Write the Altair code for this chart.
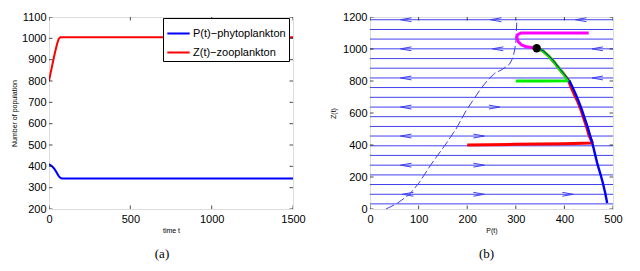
import altair as alt
import pandas as pd

# ---------------- Panel (a): time series ----------------
t_vals = [0, 10, 20, 30, 40, 50, 60, 70, 80, 1500]
p_vals = [410, 405, 399, 391, 380, 367, 354, 346, 343, 343]
z_vals = [800, 838, 874, 910, 944, 975, 998, 1005, 1005, 1005]
series_names = ["P(t)\u2212phytoplankton", "Z(t)\u2212zooplankton"]
series_colors = ["#0000ff", "#ff0000"]
a_x_domain = [0, 1500]
a_y_domain = [200, 1100]
a_xticks = [0, 500, 1000, 1500]
a_yticks = [200, 300, 400, 500, 600, 700, 800, 900, 1000, 1100]

# ---------------- Panel (b): phase portrait ----------------
b_x_domain = [0, 500]
b_y_domain = [0, 1200]
b_xticks = [0, 100, 200, 300, 400, 500]
b_yticks = [0, 200, 400, 600, 800, 1000, 1200]
row_z = [32, 92, 153, 213, 274, 335, 395, 456, 516, 577, 637, 698, 759,
         819, 880, 940, 1001, 1062, 1122, 1183]
sep_p = [33, 55, 81, 101, 126, 156, 177, 198, 228, 242, 256, 272, 287, 294, 298, 300, 301, 302]
sep_z = [0, 33, 91, 164, 280, 406, 500, 616, 752, 805, 847, 872, 905, 945, 1000, 1040, 1110, 1165]
# blue trajectory along the stable curve: lower thick part and upper thin part
curve_low_p = [410, 417, 424, 430, 436, 442, 448, 453, 458, 463, 468, 474, 479, 484, 488]
curve_low_z = [805, 760, 712, 668, 620, 565, 510, 458, 406, 343, 280, 220, 164, 100, 38]
curve_up_p = [343, 356, 369, 380, 390, 400, 410]
curve_up_z = [1005, 990, 955, 918, 878, 842, 805]
red_p = [200, 300, 400, 455, 457, 451, 446, 440, 434, 428, 421, 414, 408,
         399, 389, 379, 368, 355, 343]
red_z = [400, 404, 408, 412, 418, 458, 510, 565, 620, 668, 712, 760, 805,
         842, 878, 918, 955, 990, 1005]
green_p = [300, 360, 407, 399, 389, 379, 368, 355, 343]
green_z = [800, 800, 802, 842, 878, 918, 955, 990, 1005]
magenta_p = [450, 380, 311, 304, 302, 305, 312, 320, 335, 343]
magenta_z = [1100, 1100, 1100, 1090, 1075, 1045, 1025, 1015, 1008, 1005]
arrow_p = [74, 259, 434, 74, 263, 468, 74, 468, 74, 256, 74, 224, 74, 224, 78, 224, 407]
arrow_z = [1183, 1183, 1183, 1001, 1001, 1001, 819, 819, 637, 637, 456, 456, 274, 274, 92, 92, 92]
arrow_dir = ["L", "L", "L", "L", "L", "L", "L", "L", "L", "R", "L", "R", "L", "R", "L", "R", "R"]
equil_p = [343]
equil_z = [1005]

FONT = "Liberation Sans"
STREAM = "#4040f0"


def axis(values, title, label_pad, title_pad):
    return alt.Axis(values=values, title=title, labelPadding=label_pad,
                    titlePadding=title_pad, format="d", labelOverlap=False,
                    labelFlush=False, ticks=False, domain=False, grid=False,
                    labelFont=FONT, labelFontSize=11, labelColor="black",
                    titleFont=FONT, titleFontSize=7, titleFontWeight="normal",
                    titleColor="black")


def edge_ticks(xdom, ydom, xt, yt, xf, yf, xenc, yenc):
    """Inward ticks on all four sides (half is clipped away)."""
    ht = pd.DataFrame([{xf: x, yf: y} for x in xdom for y in yt])
    vt = pd.DataFrame([{xf: x, yf: y} for y in ydom for x in xt])
    a = alt.Chart(ht).mark_tick(orient="horizontal", size=7, thickness=1,
                                color="black", clip=True).encode(x=xenc, y=yenc)
    b = alt.Chart(vt).mark_tick(orient="vertical", size=7, thickness=1,
                                color="black", clip=True).encode(x=xenc, y=yenc)
    return [a, b]


# ----- chart (a)
rows = []
for t, p, z in zip(t_vals, p_vals, z_vals):
    rows.append({"t": t, "value": p, "series": series_names[0]})
    rows.append({"t": t, "value": z, "series": series_names[1]})
df_a = pd.DataFrame(rows)

xa = alt.X("t:Q", scale=alt.Scale(domain=a_x_domain, nice=False),
           axis=axis(a_xticks, "time t", 4, 2))
ya = alt.Y("value:Q", scale=alt.Scale(domain=a_y_domain, nice=False),
           axis=axis(a_yticks, "Number of population", 3, 4))

lines_a = alt.Chart(df_a).mark_line(strokeWidth=2, clip=True).encode(
    x=xa, y=ya,
    color=alt.Color("series:N", sort=series_names,
                    scale=alt.Scale(domain=series_names, range=series_colors),
                    legend=alt.Legend(title=None, orient="none", legendX=114, legendY=1,
                                      fillColor="white", strokeColor="black",
                                      padding=3, rowPadding=1, symbolType="stroke",
                                      symbolStrokeWidth=2, symbolSize=500,
                                      labelFont=FONT, labelFontSize=11,
                                      labelColor="black", labelOffset=2,
                                      cornerRadius=0)))

chart_a = alt.layer(lines_a, *edge_ticks(a_x_domain, a_y_domain, a_xticks, a_yticks,
                                         "t", "value", xa, ya)).properties(
    width=244, height=192,
    title=alt.TitleParams("(a)", orient="bottom", anchor="middle", frame="group",
                          font="Liberation Serif", fontSize=13, fontWeight="normal",
                          color="black", offset=15, dx=-9))

# ----- chart (b)
xb_scale = alt.Scale(domain=b_x_domain, nice=False)
yb_scale = alt.Scale(domain=b_y_domain, nice=False)
xb = alt.X("P:Q", scale=xb_scale, axis=axis(b_xticks, "P(t)", 4, 2))
yb = alt.Y("Z:Q", scale=yb_scale, axis=axis(b_yticks, "Z(t)", 3, 6))

df_rows = pd.DataFrame({"P": [b_x_domain[0]] * len(row_z),
                        "P2": [b_x_domain[1]] * len(row_z), "Z": row_z})
stream_rows = alt.Chart(df_rows).mark_rule(color=STREAM, strokeWidth=1).encode(
    x=xb, x2="P2:Q", y=yb)

df_sep = pd.DataFrame({"P": sep_p, "Z": sep_z, "i": range(len(sep_p))})
sep_line = alt.Chart(df_sep).mark_line(color=STREAM, strokeWidth=1,
                                       strokeDash=[9, 3]).encode(
    x=xb, y=yb, order="i:Q")

traj_rows = []
for name, ps, zs in [("red", red_p, red_z),
                     ("green", green_p, green_z),
                     ("magenta", magenta_p, magenta_z)]:
    for i, (p, z) in enumerate(zip(ps, zs)):
        traj_rows.append({"P": p, "Z": z, "i": i, "traj": name})
df_traj = pd.DataFrame(traj_rows)
traj_names = ["red", "green", "magenta"]
traj_colors = ["#ff0000", "#00ee00", "#ff00ff"]
traj_lines = alt.Chart(df_traj).mark_line(strokeWidth=3).encode(
    x=xb, y=yb, order="i:Q",
    color=alt.Color("traj:N", scale=alt.Scale(domain=traj_names, range=traj_colors),
                    legend=None),
    detail="traj:N")

df_curve_low = pd.DataFrame({"P": curve_low_p, "Z": curve_low_z,
                             "i": range(len(curve_low_p))})
curve_low = alt.Chart(df_curve_low).mark_line(color="#0000ff", strokeWidth=2.4).encode(
    x=xb, y=yb, order="i:Q")
df_curve_up = pd.DataFrame({"P": curve_up_p, "Z": curve_up_z,
                            "i": range(len(curve_up_p))})
curve_up = alt.Chart(df_curve_up).mark_line(color="#1010a0", strokeWidth=1).encode(
    x=xb, y=yb, order="i:Q")

df_arrows = pd.DataFrame({"P": arrow_p, "Z": arrow_z, "dir": arrow_dir})
arrows = alt.Chart(df_arrows).mark_point(filled=False, strokeWidth=1, size=121,
                                         opacity=1, color=STREAM).encode(
    x=xb, y=yb,
    shape=alt.Shape("dir:N", scale=alt.Scale(domain=["L", "R"],
                                             range=["M1,-0.35L-1,0L1,0.35",
                                                    "M-1,-0.35L1,0L-1,0.35"]),
                    legend=None))

df_eq = pd.DataFrame({"P": equil_p, "Z": equil_z})
eq_dot = alt.Chart(df_eq).mark_circle(color="black", size=70, opacity=1).encode(x=xb, y=yb)

chart_b = alt.layer(stream_rows, sep_line, traj_lines, curve_low, curve_up, arrows, eq_dot,
                    *edge_ticks(b_x_domain, b_y_domain, b_xticks, b_yticks, "P", "Z",
                                xb, yb)
                    ).resolve_scale(color="independent", shape="independent").properties(
    width=243, height=192,
    title=alt.TitleParams("(b)", orient="bottom", anchor="middle", frame="group",
                          font="Liberation Serif", fontSize=13, fontWeight="normal",
                          color="black", offset=15, dx=-5))

chart = alt.hconcat(chart_a, chart_b, spacing=23).properties(
    padding={"left": 2, "top": 2, "right": 0, "bottom": 0}
).configure_view(stroke="black", strokeWidth=1).configure(background="white")

chart.save("out.html", embed_options={"renderer": "svg", "actions": False})
